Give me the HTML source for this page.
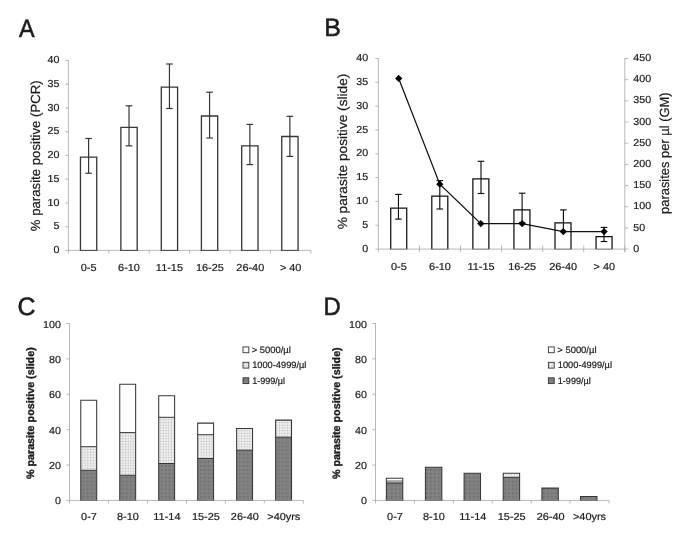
<!DOCTYPE html>
<html lang="en"><head><meta charset="utf-8"><title>Figure</title>
<style>
html,body{margin:0;padding:0;background:#fff;}
svg{display:block;text-rendering:geometricPrecision;will-change:transform;filter:grayscale(1);font-family:'Liberation Sans', Arial, sans-serif;}
</style></head><body>
<svg width="685" height="540" viewBox="0 0 685 540" font-family="'Liberation Sans', Arial, sans-serif">
<defs>
<pattern id="dark" width="3.9" height="3.9" patternUnits="userSpaceOnUse"><rect width="3.9" height="3.9" fill="#828282"/><rect x="1.2" y="1.2" width="1.3" height="1.3" fill="#5e5e5e"/></pattern>
<pattern id="light" width="2.7" height="2.7" patternUnits="userSpaceOnUse"><rect width="2.7" height="2.7" fill="#f4f4f4"/><rect x="0" y="0.95" width="2.7" height="0.8" fill="#d2d2d2"/><rect x="0.95" y="0" width="0.8" height="2.7" fill="#d2d2d2"/></pattern>
</defs>
<rect width="685" height="540" fill="#fff"/>
<line x1="68.40" y1="60.10" x2="68.40" y2="253.50" stroke="#b0b0b0" stroke-width="0.9"/>
<line x1="65.30" y1="250.40" x2="310.90" y2="250.40" stroke="#b0b0b0" stroke-width="0.9"/>
<line x1="65.30" y1="60.50" x2="68.40" y2="60.50" stroke="#b0b0b0" stroke-width="0.9"/>
<text x="59.50" y="63.20" font-size="10.2" text-anchor="end" font-weight="normal" fill="#1c1c1c" stroke="#1c1c1c" stroke-width="0.2" textLength="11.91" lengthAdjust="spacingAndGlyphs">40</text>
<line x1="65.30" y1="84.24" x2="68.40" y2="84.24" stroke="#b0b0b0" stroke-width="0.9"/>
<text x="59.50" y="86.94" font-size="10.2" text-anchor="end" font-weight="normal" fill="#1c1c1c" stroke="#1c1c1c" stroke-width="0.2" textLength="11.91" lengthAdjust="spacingAndGlyphs">35</text>
<line x1="65.30" y1="107.97" x2="68.40" y2="107.97" stroke="#b0b0b0" stroke-width="0.9"/>
<text x="59.50" y="110.67" font-size="10.2" text-anchor="end" font-weight="normal" fill="#1c1c1c" stroke="#1c1c1c" stroke-width="0.2" textLength="11.91" lengthAdjust="spacingAndGlyphs">30</text>
<line x1="65.30" y1="131.71" x2="68.40" y2="131.71" stroke="#b0b0b0" stroke-width="0.9"/>
<text x="59.50" y="134.41" font-size="10.2" text-anchor="end" font-weight="normal" fill="#1c1c1c" stroke="#1c1c1c" stroke-width="0.2" textLength="11.91" lengthAdjust="spacingAndGlyphs">25</text>
<line x1="65.30" y1="155.45" x2="68.40" y2="155.45" stroke="#b0b0b0" stroke-width="0.9"/>
<text x="59.50" y="158.15" font-size="10.2" text-anchor="end" font-weight="normal" fill="#1c1c1c" stroke="#1c1c1c" stroke-width="0.2" textLength="11.91" lengthAdjust="spacingAndGlyphs">20</text>
<line x1="65.30" y1="179.19" x2="68.40" y2="179.19" stroke="#b0b0b0" stroke-width="0.9"/>
<text x="59.50" y="181.89" font-size="10.2" text-anchor="end" font-weight="normal" fill="#1c1c1c" stroke="#1c1c1c" stroke-width="0.2" textLength="11.91" lengthAdjust="spacingAndGlyphs">15</text>
<line x1="65.30" y1="202.93" x2="68.40" y2="202.93" stroke="#b0b0b0" stroke-width="0.9"/>
<text x="59.50" y="205.62" font-size="10.2" text-anchor="end" font-weight="normal" fill="#1c1c1c" stroke="#1c1c1c" stroke-width="0.2" textLength="11.91" lengthAdjust="spacingAndGlyphs">10</text>
<line x1="65.30" y1="226.66" x2="68.40" y2="226.66" stroke="#b0b0b0" stroke-width="0.9"/>
<text x="59.50" y="229.36" font-size="10.2" text-anchor="end" font-weight="normal" fill="#1c1c1c" stroke="#1c1c1c" stroke-width="0.2" textLength="5.96" lengthAdjust="spacingAndGlyphs">5</text>
<text x="59.50" y="253.10" font-size="10.2" text-anchor="end" font-weight="normal" fill="#1c1c1c" stroke="#1c1c1c" stroke-width="0.2" textLength="5.96" lengthAdjust="spacingAndGlyphs">0</text>
<line x1="108.82" y1="250.40" x2="108.82" y2="253.50" stroke="#b0b0b0" stroke-width="0.9"/>
<line x1="149.23" y1="250.40" x2="149.23" y2="253.50" stroke="#b0b0b0" stroke-width="0.9"/>
<line x1="189.65" y1="250.40" x2="189.65" y2="253.50" stroke="#b0b0b0" stroke-width="0.9"/>
<line x1="230.07" y1="250.40" x2="230.07" y2="253.50" stroke="#b0b0b0" stroke-width="0.9"/>
<line x1="270.48" y1="250.40" x2="270.48" y2="253.50" stroke="#b0b0b0" stroke-width="0.9"/>
<line x1="310.90" y1="250.40" x2="310.90" y2="253.50" stroke="#b0b0b0" stroke-width="0.9"/>
<text x="88.61" y="270.60" font-size="10.2" text-anchor="middle" font-weight="normal" fill="#1c1c1c" stroke="#1c1c1c" stroke-width="0.2" textLength="15.77" lengthAdjust="spacingAndGlyphs">0-5</text>
<text x="129.03" y="270.60" font-size="10.2" text-anchor="middle" font-weight="normal" fill="#1c1c1c" stroke="#1c1c1c" stroke-width="0.2" textLength="21.85" lengthAdjust="spacingAndGlyphs">6-10</text>
<text x="169.44" y="270.60" font-size="10.2" text-anchor="middle" font-weight="normal" fill="#1c1c1c" stroke="#1c1c1c" stroke-width="0.2" textLength="27.11" lengthAdjust="spacingAndGlyphs">11-15</text>
<text x="209.86" y="270.60" font-size="10.2" text-anchor="middle" font-weight="normal" fill="#1c1c1c" stroke="#1c1c1c" stroke-width="0.2" textLength="27.92" lengthAdjust="spacingAndGlyphs">16-25</text>
<text x="250.28" y="270.60" font-size="10.2" text-anchor="middle" font-weight="normal" fill="#1c1c1c" stroke="#1c1c1c" stroke-width="0.2" textLength="27.92" lengthAdjust="spacingAndGlyphs">26-40</text>
<text x="290.69" y="270.60" font-size="10.2" text-anchor="middle" font-weight="normal" fill="#1c1c1c" stroke="#1c1c1c" stroke-width="0.2" textLength="21.55" lengthAdjust="spacingAndGlyphs">&gt; 40</text>
<rect x="80.46" y="157.10" width="16.30" height="93.30" fill="#fff"/>
<path d="M80.46,250.40V157.10H96.76V250.40" fill="none" stroke="#363636" stroke-width="1.3"/>
<line x1="79.81" y1="250.40" x2="97.41" y2="250.40" stroke="#4a4a4a" stroke-width="1.1"/>
<line x1="88.61" y1="138.50" x2="88.61" y2="173.20" stroke="#363636" stroke-width="1.2"/>
<line x1="85.31" y1="138.50" x2="91.91" y2="138.50" stroke="#363636" stroke-width="1.2"/>
<line x1="85.31" y1="173.20" x2="91.91" y2="173.20" stroke="#363636" stroke-width="1.2"/>
<rect x="120.88" y="127.40" width="16.30" height="123.00" fill="#fff"/>
<path d="M120.88,250.40V127.40H137.18V250.40" fill="none" stroke="#363636" stroke-width="1.3"/>
<line x1="120.22" y1="250.40" x2="137.83" y2="250.40" stroke="#4a4a4a" stroke-width="1.1"/>
<line x1="129.03" y1="105.80" x2="129.03" y2="145.80" stroke="#363636" stroke-width="1.2"/>
<line x1="125.73" y1="105.80" x2="132.33" y2="105.80" stroke="#363636" stroke-width="1.2"/>
<line x1="125.73" y1="145.80" x2="132.33" y2="145.80" stroke="#363636" stroke-width="1.2"/>
<rect x="161.29" y="87.20" width="16.30" height="163.20" fill="#fff"/>
<path d="M161.29,250.40V87.20H177.59V250.40" fill="none" stroke="#363636" stroke-width="1.3"/>
<line x1="160.64" y1="250.40" x2="178.24" y2="250.40" stroke="#4a4a4a" stroke-width="1.1"/>
<line x1="169.44" y1="64.00" x2="169.44" y2="108.50" stroke="#363636" stroke-width="1.2"/>
<line x1="166.14" y1="64.00" x2="172.74" y2="64.00" stroke="#363636" stroke-width="1.2"/>
<line x1="166.14" y1="108.50" x2="172.74" y2="108.50" stroke="#363636" stroke-width="1.2"/>
<rect x="201.41" y="116.00" width="16.30" height="134.40" fill="#fff"/>
<path d="M201.41,250.40V116.00H217.71V250.40" fill="none" stroke="#363636" stroke-width="1.3"/>
<line x1="200.76" y1="250.40" x2="218.36" y2="250.40" stroke="#4a4a4a" stroke-width="1.1"/>
<line x1="209.56" y1="92.20" x2="209.56" y2="138.00" stroke="#363636" stroke-width="1.2"/>
<line x1="206.26" y1="92.20" x2="212.86" y2="92.20" stroke="#363636" stroke-width="1.2"/>
<line x1="206.26" y1="138.00" x2="212.86" y2="138.00" stroke="#363636" stroke-width="1.2"/>
<rect x="241.72" y="145.80" width="16.30" height="104.60" fill="#fff"/>
<path d="M241.72,250.40V145.80H258.02V250.40" fill="none" stroke="#363636" stroke-width="1.3"/>
<line x1="241.07" y1="250.40" x2="258.67" y2="250.40" stroke="#4a4a4a" stroke-width="1.1"/>
<line x1="249.88" y1="124.40" x2="249.88" y2="164.60" stroke="#363636" stroke-width="1.2"/>
<line x1="246.57" y1="124.40" x2="253.18" y2="124.40" stroke="#363636" stroke-width="1.2"/>
<line x1="246.57" y1="164.60" x2="253.18" y2="164.60" stroke="#363636" stroke-width="1.2"/>
<rect x="281.74" y="136.50" width="16.30" height="113.90" fill="#fff"/>
<path d="M281.74,250.40V136.50H298.04V250.40" fill="none" stroke="#363636" stroke-width="1.3"/>
<line x1="281.09" y1="250.40" x2="298.69" y2="250.40" stroke="#4a4a4a" stroke-width="1.1"/>
<line x1="289.89" y1="116.30" x2="289.89" y2="156.40" stroke="#363636" stroke-width="1.2"/>
<line x1="286.59" y1="116.30" x2="293.19" y2="116.30" stroke="#363636" stroke-width="1.2"/>
<line x1="286.59" y1="156.40" x2="293.19" y2="156.40" stroke="#363636" stroke-width="1.2"/>
<text x="40.00" y="155.75" font-size="13.2" text-anchor="middle" font-weight="normal" fill="#1c1c1c" stroke="#1c1c1c" stroke-width="0.2" transform="rotate(-90 40.00 155.75)" textLength="151.00" lengthAdjust="spacingAndGlyphs">% parasite positive (PCR)</text>
<text x="19.10" y="36.70" font-size="25.2" text-anchor="start" font-weight="normal" fill="#1c1c1c" stroke="#1c1c1c" stroke-width="0.55" textLength="15.60" lengthAdjust="spacingAndGlyphs">A</text>
<line x1="378.40" y1="58.10" x2="378.40" y2="252.20" stroke="#b0b0b0" stroke-width="0.9"/>
<line x1="375.30" y1="249.10" x2="624.80" y2="249.10" stroke="#b0b0b0" stroke-width="0.9"/>
<line x1="375.30" y1="58.50" x2="378.40" y2="58.50" stroke="#b0b0b0" stroke-width="0.9"/>
<text x="368.30" y="61.10" font-size="10.2" text-anchor="end" font-weight="normal" fill="#1c1c1c" stroke="#1c1c1c" stroke-width="0.2" textLength="11.91" lengthAdjust="spacingAndGlyphs">40</text>
<line x1="375.30" y1="82.33" x2="378.40" y2="82.33" stroke="#b0b0b0" stroke-width="0.9"/>
<text x="368.30" y="84.92" font-size="10.2" text-anchor="end" font-weight="normal" fill="#1c1c1c" stroke="#1c1c1c" stroke-width="0.2" textLength="11.91" lengthAdjust="spacingAndGlyphs">35</text>
<line x1="375.30" y1="106.15" x2="378.40" y2="106.15" stroke="#b0b0b0" stroke-width="0.9"/>
<text x="368.30" y="108.75" font-size="10.2" text-anchor="end" font-weight="normal" fill="#1c1c1c" stroke="#1c1c1c" stroke-width="0.2" textLength="11.91" lengthAdjust="spacingAndGlyphs">30</text>
<line x1="375.30" y1="129.97" x2="378.40" y2="129.97" stroke="#b0b0b0" stroke-width="0.9"/>
<text x="368.30" y="132.57" font-size="10.2" text-anchor="end" font-weight="normal" fill="#1c1c1c" stroke="#1c1c1c" stroke-width="0.2" textLength="11.91" lengthAdjust="spacingAndGlyphs">25</text>
<line x1="375.30" y1="153.80" x2="378.40" y2="153.80" stroke="#b0b0b0" stroke-width="0.9"/>
<text x="368.30" y="156.40" font-size="10.2" text-anchor="end" font-weight="normal" fill="#1c1c1c" stroke="#1c1c1c" stroke-width="0.2" textLength="11.91" lengthAdjust="spacingAndGlyphs">20</text>
<line x1="375.30" y1="177.62" x2="378.40" y2="177.62" stroke="#b0b0b0" stroke-width="0.9"/>
<text x="368.30" y="180.22" font-size="10.2" text-anchor="end" font-weight="normal" fill="#1c1c1c" stroke="#1c1c1c" stroke-width="0.2" textLength="11.91" lengthAdjust="spacingAndGlyphs">15</text>
<line x1="375.30" y1="201.45" x2="378.40" y2="201.45" stroke="#b0b0b0" stroke-width="0.9"/>
<text x="368.30" y="204.05" font-size="10.2" text-anchor="end" font-weight="normal" fill="#1c1c1c" stroke="#1c1c1c" stroke-width="0.2" textLength="11.91" lengthAdjust="spacingAndGlyphs">10</text>
<line x1="375.30" y1="225.28" x2="378.40" y2="225.28" stroke="#b0b0b0" stroke-width="0.9"/>
<text x="368.30" y="227.88" font-size="10.2" text-anchor="end" font-weight="normal" fill="#1c1c1c" stroke="#1c1c1c" stroke-width="0.2" textLength="5.96" lengthAdjust="spacingAndGlyphs">5</text>
<text x="368.30" y="251.70" font-size="10.2" text-anchor="end" font-weight="normal" fill="#1c1c1c" stroke="#1c1c1c" stroke-width="0.2" textLength="5.96" lengthAdjust="spacingAndGlyphs">0</text>
<line x1="419.47" y1="245.60" x2="419.47" y2="252.20" stroke="#b0b0b0" stroke-width="0.9"/>
<line x1="460.53" y1="245.60" x2="460.53" y2="252.20" stroke="#b0b0b0" stroke-width="0.9"/>
<line x1="501.60" y1="245.60" x2="501.60" y2="252.20" stroke="#b0b0b0" stroke-width="0.9"/>
<line x1="542.67" y1="245.60" x2="542.67" y2="252.20" stroke="#b0b0b0" stroke-width="0.9"/>
<line x1="583.73" y1="245.60" x2="583.73" y2="252.20" stroke="#b0b0b0" stroke-width="0.9"/>
<line x1="624.80" y1="245.60" x2="624.80" y2="252.20" stroke="#b0b0b0" stroke-width="0.9"/>
<text x="398.93" y="269.60" font-size="10.2" text-anchor="middle" font-weight="normal" fill="#1c1c1c" stroke="#1c1c1c" stroke-width="0.2" textLength="15.77" lengthAdjust="spacingAndGlyphs">0-5</text>
<text x="440.00" y="269.60" font-size="10.2" text-anchor="middle" font-weight="normal" fill="#1c1c1c" stroke="#1c1c1c" stroke-width="0.2" textLength="21.85" lengthAdjust="spacingAndGlyphs">6-10</text>
<text x="481.07" y="269.60" font-size="10.2" text-anchor="middle" font-weight="normal" fill="#1c1c1c" stroke="#1c1c1c" stroke-width="0.2" textLength="27.11" lengthAdjust="spacingAndGlyphs">11-15</text>
<text x="522.13" y="269.60" font-size="10.2" text-anchor="middle" font-weight="normal" fill="#1c1c1c" stroke="#1c1c1c" stroke-width="0.2" textLength="27.92" lengthAdjust="spacingAndGlyphs">16-25</text>
<text x="563.20" y="269.60" font-size="10.2" text-anchor="middle" font-weight="normal" fill="#1c1c1c" stroke="#1c1c1c" stroke-width="0.2" textLength="27.92" lengthAdjust="spacingAndGlyphs">26-40</text>
<text x="604.27" y="269.60" font-size="10.2" text-anchor="middle" font-weight="normal" fill="#1c1c1c" stroke="#1c1c1c" stroke-width="0.2" textLength="21.55" lengthAdjust="spacingAndGlyphs">&gt; 40</text>
<line x1="624.80" y1="58.10" x2="624.80" y2="252.20" stroke="#b0b0b0" stroke-width="0.9"/>
<line x1="624.80" y1="58.50" x2="628.30" y2="58.50" stroke="#b0b0b0" stroke-width="0.9"/>
<text x="633.30" y="61.10" font-size="10.2" text-anchor="start" font-weight="normal" fill="#1c1c1c" stroke="#1c1c1c" stroke-width="0.2" textLength="17.87" lengthAdjust="spacingAndGlyphs">450</text>
<line x1="624.80" y1="79.68" x2="628.30" y2="79.68" stroke="#b0b0b0" stroke-width="0.9"/>
<text x="633.30" y="82.28" font-size="10.2" text-anchor="start" font-weight="normal" fill="#1c1c1c" stroke="#1c1c1c" stroke-width="0.2" textLength="17.87" lengthAdjust="spacingAndGlyphs">400</text>
<line x1="624.80" y1="100.86" x2="628.30" y2="100.86" stroke="#b0b0b0" stroke-width="0.9"/>
<text x="633.30" y="103.46" font-size="10.2" text-anchor="start" font-weight="normal" fill="#1c1c1c" stroke="#1c1c1c" stroke-width="0.2" textLength="17.87" lengthAdjust="spacingAndGlyphs">350</text>
<line x1="624.80" y1="122.03" x2="628.30" y2="122.03" stroke="#b0b0b0" stroke-width="0.9"/>
<text x="633.30" y="124.63" font-size="10.2" text-anchor="start" font-weight="normal" fill="#1c1c1c" stroke="#1c1c1c" stroke-width="0.2" textLength="17.87" lengthAdjust="spacingAndGlyphs">300</text>
<line x1="624.80" y1="143.21" x2="628.30" y2="143.21" stroke="#b0b0b0" stroke-width="0.9"/>
<text x="633.30" y="145.81" font-size="10.2" text-anchor="start" font-weight="normal" fill="#1c1c1c" stroke="#1c1c1c" stroke-width="0.2" textLength="17.87" lengthAdjust="spacingAndGlyphs">250</text>
<line x1="624.80" y1="164.39" x2="628.30" y2="164.39" stroke="#b0b0b0" stroke-width="0.9"/>
<text x="633.30" y="166.99" font-size="10.2" text-anchor="start" font-weight="normal" fill="#1c1c1c" stroke="#1c1c1c" stroke-width="0.2" textLength="17.87" lengthAdjust="spacingAndGlyphs">200</text>
<line x1="624.80" y1="185.57" x2="628.30" y2="185.57" stroke="#b0b0b0" stroke-width="0.9"/>
<text x="633.30" y="188.17" font-size="10.2" text-anchor="start" font-weight="normal" fill="#1c1c1c" stroke="#1c1c1c" stroke-width="0.2" textLength="17.87" lengthAdjust="spacingAndGlyphs">150</text>
<line x1="624.80" y1="206.74" x2="628.30" y2="206.74" stroke="#b0b0b0" stroke-width="0.9"/>
<text x="633.30" y="209.34" font-size="10.2" text-anchor="start" font-weight="normal" fill="#1c1c1c" stroke="#1c1c1c" stroke-width="0.2" textLength="17.87" lengthAdjust="spacingAndGlyphs">100</text>
<line x1="624.80" y1="227.92" x2="628.30" y2="227.92" stroke="#b0b0b0" stroke-width="0.9"/>
<text x="633.30" y="230.52" font-size="10.2" text-anchor="start" font-weight="normal" fill="#1c1c1c" stroke="#1c1c1c" stroke-width="0.2" textLength="11.91" lengthAdjust="spacingAndGlyphs">50</text>
<line x1="624.80" y1="249.10" x2="628.30" y2="249.10" stroke="#b0b0b0" stroke-width="0.9"/>
<text x="633.30" y="251.70" font-size="10.2" text-anchor="start" font-weight="normal" fill="#1c1c1c" stroke="#1c1c1c" stroke-width="0.2" textLength="5.96" lengthAdjust="spacingAndGlyphs">0</text>
<rect x="390.73" y="208.20" width="16.00" height="40.90" fill="#fff"/>
<path d="M390.73,249.10V208.20H406.73V249.10" fill="none" stroke="#101010" stroke-width="1.25"/>
<line x1="390.11" y1="249.10" x2="407.36" y2="249.10" stroke="#777777" stroke-width="1.0"/>
<line x1="398.45" y1="194.40" x2="398.45" y2="219.10" stroke="#101010" stroke-width="1.15"/>
<line x1="395.15" y1="194.40" x2="401.75" y2="194.40" stroke="#101010" stroke-width="1.15"/>
<line x1="395.15" y1="219.10" x2="401.75" y2="219.10" stroke="#101010" stroke-width="1.15"/>
<rect x="431.80" y="196.20" width="16.00" height="52.90" fill="#fff"/>
<path d="M431.80,249.10V196.20H447.80V249.10" fill="none" stroke="#101010" stroke-width="1.25"/>
<line x1="431.18" y1="249.10" x2="448.43" y2="249.10" stroke="#777777" stroke-width="1.0"/>
<line x1="439.80" y1="180.60" x2="439.80" y2="209.00" stroke="#101010" stroke-width="1.15"/>
<line x1="436.50" y1="180.60" x2="443.10" y2="180.60" stroke="#101010" stroke-width="1.15"/>
<line x1="436.50" y1="209.00" x2="443.10" y2="209.00" stroke="#101010" stroke-width="1.15"/>
<rect x="472.87" y="178.90" width="16.00" height="70.20" fill="#fff"/>
<path d="M472.87,249.10V178.90H488.87V249.10" fill="none" stroke="#101010" stroke-width="1.25"/>
<line x1="472.24" y1="249.10" x2="489.49" y2="249.10" stroke="#777777" stroke-width="1.0"/>
<line x1="481.00" y1="161.30" x2="481.00" y2="193.50" stroke="#101010" stroke-width="1.15"/>
<line x1="477.70" y1="161.30" x2="484.30" y2="161.30" stroke="#101010" stroke-width="1.15"/>
<line x1="477.70" y1="193.50" x2="484.30" y2="193.50" stroke="#101010" stroke-width="1.15"/>
<rect x="513.93" y="209.80" width="16.00" height="39.30" fill="#fff"/>
<path d="M513.93,249.10V209.80H529.93V249.10" fill="none" stroke="#101010" stroke-width="1.25"/>
<line x1="513.31" y1="249.10" x2="530.56" y2="249.10" stroke="#777777" stroke-width="1.0"/>
<line x1="522.10" y1="193.20" x2="522.10" y2="222.80" stroke="#101010" stroke-width="1.15"/>
<line x1="518.80" y1="193.20" x2="525.40" y2="193.20" stroke="#101010" stroke-width="1.15"/>
<line x1="518.80" y1="222.80" x2="525.40" y2="222.80" stroke="#101010" stroke-width="1.15"/>
<rect x="555.00" y="222.80" width="16.00" height="26.30" fill="#fff"/>
<path d="M555.00,249.10V222.80H571.00V249.10" fill="none" stroke="#101010" stroke-width="1.25"/>
<line x1="554.37" y1="249.10" x2="571.62" y2="249.10" stroke="#777777" stroke-width="1.0"/>
<line x1="563.40" y1="209.90" x2="563.40" y2="231.60" stroke="#101010" stroke-width="1.15"/>
<line x1="560.10" y1="209.90" x2="566.70" y2="209.90" stroke="#101010" stroke-width="1.15"/>
<line x1="560.10" y1="231.60" x2="566.70" y2="231.60" stroke="#101010" stroke-width="1.15"/>
<rect x="596.07" y="236.60" width="16.00" height="12.50" fill="#fff"/>
<path d="M596.07,249.10V236.60H612.07V249.10" fill="none" stroke="#101010" stroke-width="1.25"/>
<line x1="595.44" y1="249.10" x2="612.69" y2="249.10" stroke="#777777" stroke-width="1.0"/>
<line x1="604.00" y1="227.40" x2="604.00" y2="241.50" stroke="#101010" stroke-width="1.15"/>
<line x1="600.70" y1="227.40" x2="607.30" y2="227.40" stroke="#101010" stroke-width="1.15"/>
<line x1="600.70" y1="241.50" x2="607.30" y2="241.50" stroke="#101010" stroke-width="1.15"/>
<polyline fill="none" stroke="#111111" stroke-width="1.25" points="398.70,78.40 439.80,184.20 480.80,223.60 522.10,223.60 563.30,231.60 604.10,231.60"/>
<polygon fill="#000" points="395.10,78.40 398.70,74.80 402.30,78.40 398.70,82.00"/>
<polygon fill="#000" points="436.20,184.20 439.80,180.60 443.40,184.20 439.80,187.80"/>
<polygon fill="#000" points="477.20,223.60 480.80,220.00 484.40,223.60 480.80,227.20"/>
<polygon fill="#000" points="518.50,223.60 522.10,220.00 525.70,223.60 522.10,227.20"/>
<polygon fill="#000" points="559.70,231.60 563.30,228.00 566.90,231.60 563.30,235.20"/>
<polygon fill="#000" points="600.50,231.60 604.10,228.00 607.70,231.60 604.10,235.20"/>
<text x="346.50" y="151.50" font-size="13.2" text-anchor="middle" font-weight="normal" fill="#1c1c1c" stroke="#1c1c1c" stroke-width="0.2" transform="rotate(-90 346.50 151.50)" textLength="155.70" lengthAdjust="spacingAndGlyphs">% parasite positive (slide)</text>
<text x="669.00" y="153.20" font-size="13.2" text-anchor="middle" font-weight="normal" fill="#1c1c1c" stroke="#1c1c1c" stroke-width="0.2" transform="rotate(-90 669.00 153.20)" textLength="121.50" lengthAdjust="spacingAndGlyphs">parasites per µl (GM)</text>
<text x="324.20" y="36.20" font-size="25.2" text-anchor="start" font-weight="normal" fill="#1c1c1c" stroke="#1c1c1c" stroke-width="0.55" textLength="16.60" lengthAdjust="spacingAndGlyphs">B</text>
<line x1="69.50" y1="323.10" x2="69.50" y2="503.50" stroke="#b0b0b0" stroke-width="0.9"/>
<line x1="66.40" y1="500.40" x2="303.30" y2="500.40" stroke="#b0b0b0" stroke-width="0.9"/>
<line x1="66.40" y1="323.50" x2="69.50" y2="323.50" stroke="#b0b0b0" stroke-width="0.9"/>
<text x="61.00" y="328.00" font-size="10.2" text-anchor="end" font-weight="normal" fill="#1c1c1c" stroke="#1c1c1c" stroke-width="0.2" textLength="17.87" lengthAdjust="spacingAndGlyphs">100</text>
<line x1="66.40" y1="358.88" x2="69.50" y2="358.88" stroke="#b0b0b0" stroke-width="0.9"/>
<text x="61.00" y="363.22" font-size="10.2" text-anchor="end" font-weight="normal" fill="#1c1c1c" stroke="#1c1c1c" stroke-width="0.2" textLength="11.91" lengthAdjust="spacingAndGlyphs">80</text>
<line x1="66.40" y1="394.26" x2="69.50" y2="394.26" stroke="#b0b0b0" stroke-width="0.9"/>
<text x="61.00" y="398.44" font-size="10.2" text-anchor="end" font-weight="normal" fill="#1c1c1c" stroke="#1c1c1c" stroke-width="0.2" textLength="11.91" lengthAdjust="spacingAndGlyphs">60</text>
<line x1="66.40" y1="429.64" x2="69.50" y2="429.64" stroke="#b0b0b0" stroke-width="0.9"/>
<text x="61.00" y="433.66" font-size="10.2" text-anchor="end" font-weight="normal" fill="#1c1c1c" stroke="#1c1c1c" stroke-width="0.2" textLength="11.91" lengthAdjust="spacingAndGlyphs">40</text>
<line x1="66.40" y1="465.02" x2="69.50" y2="465.02" stroke="#b0b0b0" stroke-width="0.9"/>
<text x="61.00" y="468.88" font-size="10.2" text-anchor="end" font-weight="normal" fill="#1c1c1c" stroke="#1c1c1c" stroke-width="0.2" textLength="11.91" lengthAdjust="spacingAndGlyphs">20</text>
<text x="61.00" y="504.10" font-size="10.2" text-anchor="end" font-weight="normal" fill="#1c1c1c" stroke="#1c1c1c" stroke-width="0.2" textLength="5.96" lengthAdjust="spacingAndGlyphs">0</text>
<line x1="108.47" y1="500.40" x2="108.47" y2="503.50" stroke="#b0b0b0" stroke-width="0.9"/>
<line x1="147.43" y1="500.40" x2="147.43" y2="503.50" stroke="#b0b0b0" stroke-width="0.9"/>
<line x1="186.40" y1="500.40" x2="186.40" y2="503.50" stroke="#b0b0b0" stroke-width="0.9"/>
<line x1="225.37" y1="500.40" x2="225.37" y2="503.50" stroke="#b0b0b0" stroke-width="0.9"/>
<line x1="264.33" y1="500.40" x2="264.33" y2="503.50" stroke="#b0b0b0" stroke-width="0.9"/>
<line x1="303.30" y1="500.40" x2="303.30" y2="503.50" stroke="#b0b0b0" stroke-width="0.9"/>
<text x="88.98" y="520.00" font-size="10.2" text-anchor="middle" font-weight="normal" fill="#1c1c1c" stroke="#1c1c1c" stroke-width="0.2" textLength="15.77" lengthAdjust="spacingAndGlyphs">0-7</text>
<text x="127.95" y="520.00" font-size="10.2" text-anchor="middle" font-weight="normal" fill="#1c1c1c" stroke="#1c1c1c" stroke-width="0.2" textLength="21.85" lengthAdjust="spacingAndGlyphs">8-10</text>
<text x="166.92" y="520.00" font-size="10.2" text-anchor="middle" font-weight="normal" fill="#1c1c1c" stroke="#1c1c1c" stroke-width="0.2" textLength="27.11" lengthAdjust="spacingAndGlyphs">11-14</text>
<text x="205.88" y="520.00" font-size="10.2" text-anchor="middle" font-weight="normal" fill="#1c1c1c" stroke="#1c1c1c" stroke-width="0.2" textLength="27.92" lengthAdjust="spacingAndGlyphs">15-25</text>
<text x="244.85" y="520.00" font-size="10.2" text-anchor="middle" font-weight="normal" fill="#1c1c1c" stroke="#1c1c1c" stroke-width="0.2" textLength="27.92" lengthAdjust="spacingAndGlyphs">26-40</text>
<text x="283.82" y="520.00" font-size="10.2" text-anchor="middle" font-weight="normal" fill="#1c1c1c" stroke="#1c1c1c" stroke-width="0.2" textLength="33.06" lengthAdjust="spacingAndGlyphs">&gt;40yrs</text>
<rect x="80.78" y="400.30" width="15.90" height="46.40" fill="#fff"/>
<rect x="80.78" y="446.70" width="15.90" height="23.60" fill="url(#light)"/>
<rect x="80.78" y="470.30" width="15.90" height="30.10" fill="url(#dark)"/>
<path d="M80.78,500.40V400.30H96.68V500.40" fill="none" stroke="#383838" stroke-width="1.05"/>
<line x1="80.78" y1="446.70" x2="96.68" y2="446.70" stroke="#383838" stroke-width="1.0"/>
<line x1="80.78" y1="470.30" x2="96.68" y2="470.30" stroke="#383838" stroke-width="1.0"/>
<line x1="80.26" y1="500.40" x2="97.21" y2="500.40" stroke="#777777" stroke-width="1.0"/>
<rect x="119.75" y="384.20" width="15.90" height="48.40" fill="#fff"/>
<rect x="119.75" y="432.60" width="15.90" height="42.70" fill="url(#light)"/>
<rect x="119.75" y="475.30" width="15.90" height="25.10" fill="url(#dark)"/>
<path d="M119.75,500.40V384.20H135.65V500.40" fill="none" stroke="#383838" stroke-width="1.05"/>
<line x1="119.75" y1="432.60" x2="135.65" y2="432.60" stroke="#383838" stroke-width="1.0"/>
<line x1="119.75" y1="475.30" x2="135.65" y2="475.30" stroke="#383838" stroke-width="1.0"/>
<line x1="119.22" y1="500.40" x2="136.18" y2="500.40" stroke="#777777" stroke-width="1.0"/>
<rect x="158.72" y="395.80" width="15.90" height="21.50" fill="#fff"/>
<rect x="158.72" y="417.30" width="15.90" height="46.20" fill="url(#light)"/>
<rect x="158.72" y="463.50" width="15.90" height="36.90" fill="url(#dark)"/>
<path d="M158.72,500.40V395.80H174.62V500.40" fill="none" stroke="#383838" stroke-width="1.05"/>
<line x1="158.72" y1="417.30" x2="174.62" y2="417.30" stroke="#383838" stroke-width="1.0"/>
<line x1="158.72" y1="463.50" x2="174.62" y2="463.50" stroke="#383838" stroke-width="1.0"/>
<line x1="158.19" y1="500.40" x2="175.14" y2="500.40" stroke="#777777" stroke-width="1.0"/>
<rect x="197.68" y="423.10" width="15.90" height="11.60" fill="#fff"/>
<rect x="197.68" y="434.70" width="15.90" height="23.80" fill="url(#light)"/>
<rect x="197.68" y="458.50" width="15.90" height="41.90" fill="url(#dark)"/>
<path d="M197.68,500.40V423.10H213.58V500.40" fill="none" stroke="#383838" stroke-width="1.05"/>
<line x1="197.68" y1="434.70" x2="213.58" y2="434.70" stroke="#383838" stroke-width="1.0"/>
<line x1="197.68" y1="458.50" x2="213.58" y2="458.50" stroke="#383838" stroke-width="1.0"/>
<line x1="197.16" y1="500.40" x2="214.11" y2="500.40" stroke="#777777" stroke-width="1.0"/>
<rect x="236.65" y="428.40" width="15.90" height="21.80" fill="url(#light)"/>
<rect x="236.65" y="450.20" width="15.90" height="50.20" fill="url(#dark)"/>
<path d="M236.65,500.40V428.40H252.55V500.40" fill="none" stroke="#383838" stroke-width="1.05"/>
<line x1="236.65" y1="450.20" x2="252.55" y2="450.20" stroke="#383838" stroke-width="1.0"/>
<line x1="236.13" y1="500.40" x2="253.08" y2="500.40" stroke="#777777" stroke-width="1.0"/>
<rect x="275.62" y="420.10" width="15.90" height="17.10" fill="url(#light)"/>
<rect x="275.62" y="437.20" width="15.90" height="63.20" fill="url(#dark)"/>
<path d="M275.62,500.40V420.10H291.52V500.40" fill="none" stroke="#383838" stroke-width="1.05"/>
<line x1="275.62" y1="437.20" x2="291.52" y2="437.20" stroke="#383838" stroke-width="1.0"/>
<line x1="275.09" y1="500.40" x2="292.04" y2="500.40" stroke="#777777" stroke-width="1.0"/>
<rect x="243.00" y="346.90" width="5.80" height="5.80" fill="#fff" stroke="#333333" stroke-width="0.9"/>
<text x="251.70" y="353.00" font-size="9.33" text-anchor="start" font-weight="normal" fill="#1c1c1c" stroke="#1c1c1c" stroke-width="0.2" textLength="39.20" lengthAdjust="spacingAndGlyphs">&gt; 5000/µl</text>
<rect x="243.00" y="362.30" width="5.80" height="5.80" fill="url(#light)" stroke="#333333" stroke-width="0.9"/>
<text x="252.20" y="368.40" font-size="9.33" text-anchor="start" font-weight="normal" fill="#1c1c1c" stroke="#1c1c1c" stroke-width="0.2" textLength="54.20" lengthAdjust="spacingAndGlyphs">1000-4999/µl</text>
<rect x="243.00" y="377.80" width="5.80" height="5.80" fill="url(#dark)" stroke="#333333" stroke-width="0.9"/>
<text x="252.20" y="383.90" font-size="9.33" text-anchor="start" font-weight="normal" fill="#1c1c1c" stroke="#1c1c1c" stroke-width="0.2" textLength="32.90" lengthAdjust="spacingAndGlyphs">1-999/µl</text>
<text x="34.00" y="413.20" font-size="10.8" text-anchor="middle" font-weight="bold" fill="#1c1c1c" stroke="#1c1c1c" stroke-width="0.35" transform="rotate(-90 34.00 413.20)" textLength="131.80" lengthAdjust="spacingAndGlyphs">% parasite positive (slide)</text>
<text x="17.60" y="315.40" font-size="25.2" text-anchor="start" font-weight="normal" fill="#1c1c1c" stroke="#1c1c1c" stroke-width="0.55" textLength="18.00" lengthAdjust="spacingAndGlyphs">C</text>
<line x1="375.50" y1="323.10" x2="375.50" y2="503.50" stroke="#b0b0b0" stroke-width="0.9"/>
<line x1="372.40" y1="500.40" x2="609.00" y2="500.40" stroke="#b0b0b0" stroke-width="0.9"/>
<line x1="372.40" y1="323.50" x2="375.50" y2="323.50" stroke="#b0b0b0" stroke-width="0.9"/>
<text x="367.00" y="328.00" font-size="10.2" text-anchor="end" font-weight="normal" fill="#1c1c1c" stroke="#1c1c1c" stroke-width="0.2" textLength="17.87" lengthAdjust="spacingAndGlyphs">100</text>
<line x1="372.40" y1="358.88" x2="375.50" y2="358.88" stroke="#b0b0b0" stroke-width="0.9"/>
<text x="367.00" y="363.22" font-size="10.2" text-anchor="end" font-weight="normal" fill="#1c1c1c" stroke="#1c1c1c" stroke-width="0.2" textLength="11.91" lengthAdjust="spacingAndGlyphs">80</text>
<line x1="372.40" y1="394.26" x2="375.50" y2="394.26" stroke="#b0b0b0" stroke-width="0.9"/>
<text x="367.00" y="398.44" font-size="10.2" text-anchor="end" font-weight="normal" fill="#1c1c1c" stroke="#1c1c1c" stroke-width="0.2" textLength="11.91" lengthAdjust="spacingAndGlyphs">60</text>
<line x1="372.40" y1="429.64" x2="375.50" y2="429.64" stroke="#b0b0b0" stroke-width="0.9"/>
<text x="367.00" y="433.66" font-size="10.2" text-anchor="end" font-weight="normal" fill="#1c1c1c" stroke="#1c1c1c" stroke-width="0.2" textLength="11.91" lengthAdjust="spacingAndGlyphs">40</text>
<line x1="372.40" y1="465.02" x2="375.50" y2="465.02" stroke="#b0b0b0" stroke-width="0.9"/>
<text x="367.00" y="468.88" font-size="10.2" text-anchor="end" font-weight="normal" fill="#1c1c1c" stroke="#1c1c1c" stroke-width="0.2" textLength="11.91" lengthAdjust="spacingAndGlyphs">20</text>
<text x="367.00" y="504.10" font-size="10.2" text-anchor="end" font-weight="normal" fill="#1c1c1c" stroke="#1c1c1c" stroke-width="0.2" textLength="5.96" lengthAdjust="spacingAndGlyphs">0</text>
<line x1="414.42" y1="500.40" x2="414.42" y2="503.50" stroke="#b0b0b0" stroke-width="0.9"/>
<line x1="453.33" y1="500.40" x2="453.33" y2="503.50" stroke="#b0b0b0" stroke-width="0.9"/>
<line x1="492.25" y1="500.40" x2="492.25" y2="503.50" stroke="#b0b0b0" stroke-width="0.9"/>
<line x1="531.17" y1="500.40" x2="531.17" y2="503.50" stroke="#b0b0b0" stroke-width="0.9"/>
<line x1="570.08" y1="500.40" x2="570.08" y2="503.50" stroke="#b0b0b0" stroke-width="0.9"/>
<line x1="609.00" y1="500.40" x2="609.00" y2="503.50" stroke="#b0b0b0" stroke-width="0.9"/>
<text x="394.96" y="520.00" font-size="10.2" text-anchor="middle" font-weight="normal" fill="#1c1c1c" stroke="#1c1c1c" stroke-width="0.2" textLength="15.77" lengthAdjust="spacingAndGlyphs">0-7</text>
<text x="433.88" y="520.00" font-size="10.2" text-anchor="middle" font-weight="normal" fill="#1c1c1c" stroke="#1c1c1c" stroke-width="0.2" textLength="21.85" lengthAdjust="spacingAndGlyphs">8-10</text>
<text x="472.79" y="520.00" font-size="10.2" text-anchor="middle" font-weight="normal" fill="#1c1c1c" stroke="#1c1c1c" stroke-width="0.2" textLength="27.11" lengthAdjust="spacingAndGlyphs">11-14</text>
<text x="511.71" y="520.00" font-size="10.2" text-anchor="middle" font-weight="normal" fill="#1c1c1c" stroke="#1c1c1c" stroke-width="0.2" textLength="27.92" lengthAdjust="spacingAndGlyphs">15-25</text>
<text x="550.62" y="520.00" font-size="10.2" text-anchor="middle" font-weight="normal" fill="#1c1c1c" stroke="#1c1c1c" stroke-width="0.2" textLength="27.92" lengthAdjust="spacingAndGlyphs">26-40</text>
<text x="589.54" y="520.00" font-size="10.2" text-anchor="middle" font-weight="normal" fill="#1c1c1c" stroke="#1c1c1c" stroke-width="0.2" textLength="33.06" lengthAdjust="spacingAndGlyphs">&gt;40yrs</text>
<rect x="386.36" y="478.20" width="16.40" height="2.00" fill="#fff"/>
<rect x="386.36" y="480.20" width="16.40" height="3.00" fill="#a2a2a2"/>
<rect x="386.36" y="483.20" width="16.40" height="17.20" fill="url(#dark)"/>
<path d="M386.36,500.40V478.20H402.76V500.40" fill="none" stroke="#383838" stroke-width="1.05"/>
<line x1="386.36" y1="483.20" x2="402.76" y2="483.20" stroke="#383838" stroke-width="1.0"/>
<line x1="385.83" y1="500.40" x2="403.28" y2="500.40" stroke="#777777" stroke-width="1.0"/>
<rect x="425.43" y="467.30" width="16.40" height="33.10" fill="url(#dark)"/>
<path d="M425.43,500.40V467.30H441.82V500.40" fill="none" stroke="#383838" stroke-width="1.05"/>
<line x1="424.90" y1="500.40" x2="442.35" y2="500.40" stroke="#777777" stroke-width="1.0"/>
<rect x="464.09" y="473.30" width="16.40" height="27.10" fill="url(#dark)"/>
<path d="M464.09,500.40V473.30H480.49V500.40" fill="none" stroke="#383838" stroke-width="1.05"/>
<line x1="463.57" y1="500.40" x2="481.02" y2="500.40" stroke="#777777" stroke-width="1.0"/>
<rect x="503.21" y="473.30" width="16.40" height="4.10" fill="url(#light)"/>
<rect x="503.21" y="477.40" width="16.40" height="23.00" fill="url(#dark)"/>
<path d="M503.21,500.40V473.30H519.61V500.40" fill="none" stroke="#383838" stroke-width="1.05"/>
<line x1="503.21" y1="477.40" x2="519.61" y2="477.40" stroke="#383838" stroke-width="1.0"/>
<line x1="502.68" y1="500.40" x2="520.13" y2="500.40" stroke="#777777" stroke-width="1.0"/>
<rect x="541.92" y="488.10" width="16.40" height="12.30" fill="url(#dark)"/>
<path d="M541.92,500.40V488.10H558.32V500.40" fill="none" stroke="#383838" stroke-width="1.05"/>
<line x1="541.40" y1="500.40" x2="558.85" y2="500.40" stroke="#777777" stroke-width="1.0"/>
<rect x="580.54" y="496.40" width="16.40" height="4.00" fill="url(#dark)"/>
<path d="M580.54,500.40V496.40H596.94V500.40" fill="none" stroke="#383838" stroke-width="1.05"/>
<line x1="580.02" y1="500.40" x2="597.47" y2="500.40" stroke="#777777" stroke-width="1.0"/>
<rect x="548.40" y="346.90" width="5.80" height="5.80" fill="#fff" stroke="#333333" stroke-width="0.9"/>
<text x="557.30" y="353.00" font-size="9.33" text-anchor="start" font-weight="normal" fill="#1c1c1c" stroke="#1c1c1c" stroke-width="0.2" textLength="39.20" lengthAdjust="spacingAndGlyphs">&gt; 5000/µl</text>
<rect x="548.40" y="362.30" width="5.80" height="5.80" fill="url(#light)" stroke="#333333" stroke-width="0.9"/>
<text x="557.80" y="368.40" font-size="9.33" text-anchor="start" font-weight="normal" fill="#1c1c1c" stroke="#1c1c1c" stroke-width="0.2" textLength="54.20" lengthAdjust="spacingAndGlyphs">1000-4999/µl</text>
<rect x="548.40" y="377.80" width="5.80" height="5.80" fill="url(#dark)" stroke="#333333" stroke-width="0.9"/>
<text x="557.80" y="383.90" font-size="9.33" text-anchor="start" font-weight="normal" fill="#1c1c1c" stroke="#1c1c1c" stroke-width="0.2" textLength="32.90" lengthAdjust="spacingAndGlyphs">1-999/µl</text>
<text x="340.20" y="413.20" font-size="10.8" text-anchor="middle" font-weight="bold" fill="#1c1c1c" stroke="#1c1c1c" stroke-width="0.35" transform="rotate(-90 340.20 413.20)" textLength="131.80" lengthAdjust="spacingAndGlyphs">% parasite positive (slide)</text>
<text x="323.40" y="315.20" font-size="25.2" text-anchor="start" font-weight="normal" fill="#1c1c1c" stroke="#1c1c1c" stroke-width="0.55" textLength="17.20" lengthAdjust="spacingAndGlyphs">D</text>
</svg>
</body></html>
